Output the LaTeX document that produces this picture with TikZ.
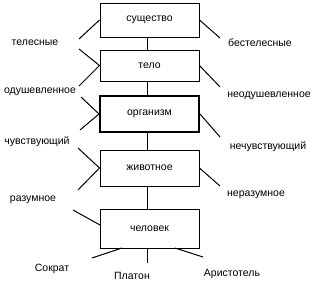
\documentclass[tikz,border=0pt]{standalone}
\usepackage{fontspec}
\setmainfont{Liberation Sans}
\begin{document}
\begin{tikzpicture}[x=1pt,y=-1pt,
  box/.style={draw, line width=1pt, minimum width=99pt, inner sep=0pt, font=\fontsize{10.5}{12}\selectfont},
  lbl/.style={inner sep=0pt, font=\fontsize{10.5}{12}\selectfont},
  ln/.style={line width=1pt}]
\useasboundingbox (0,0) rectangle (319,290);
% boxes
\node[box, minimum height=34pt] (b1) at (149.5,20) {существо};
\node[box, minimum height=31pt] (b2) at (149.5,65.5) {тело};
\node[box, line width=2pt, minimum height=36pt] (b3) at (149.5,114) {организм};
\node[box, minimum height=36pt] (b4) at (149.5,168) {животное};
\node[box, minimum height=39pt] (b5) at (149.5,228.5) {человек};
% labels
\node[lbl] (l1) at (35,43) {телесные};
\node[lbl] (r1) at (260,43) {бестелесные};
\node[lbl] (l2) at (40,92) {одушевленное};
\node[lbl] (r2) at (269,96) {неодушевленное};
\node[lbl] (l3) at (37,142) {чувствующий};
\node[lbl] (r3) at (268,147) {нечувствующий};
\node[lbl] (l4) at (33,200) {разумное};
\node[lbl] (r4) at (256,195) {неразумное};
\node[lbl] (s1) at (52,269) {Сократ};
\node[lbl] (s2) at (132,276) {Платон};
\node[lbl] (s3) at (232,274) {Аристотель};
% helper coordinates
\coordinate (cx) at (147,0);
\coordinate (a1) at (79,39);
\coordinate (a2) at (79,49);
\coordinate (a3) at (79,86);
\coordinate (a4) at (81,97);
\coordinate (a5) at (80,130);
\coordinate (a6) at (78,148);
\coordinate (a7) at (78,190);
\coordinate (a8) at (73,210);
\coordinate (e5) at (100,225);
\coordinate (c1) at (220,38);
\coordinate (c2) at (220,87);
\coordinate (c3) at (220,137);
\coordinate (c4) at (220,186);
\coordinate (p1) at (122,248);
\coordinate (q1) at (92,258);
\coordinate (q2) at (147,263);
\coordinate (p3) at (175,248);
\coordinate (q3) at (203,257);
% trunk
\draw[ln] (b1.south -| cx) -- (b2.north -| cx);
\draw[ln] (b2.south -| cx) -- (b3.north -| cx);
\draw[ln] (b3.south -| cx) -- (b4.north -| cx);
\draw[ln] (b4.south -| cx) -- (b5.north -| cx);
% left side
\draw[ln] (b1.west) -- (a1);
\draw[ln] (a2) -- (b2.west) -- (a3);
\draw[ln] (a4) -- (b3.west) -- (a5);
\draw[ln] (a6) -- (b4.west) -- (a7);
\draw[ln] (a8) -- (e5);
% right side
\draw[ln] (b1.east) -- (c1);
\draw[ln] (b2.east) -- (c2);
\draw[ln] (b3.east) -- (c3);
\draw[ln] (b4.east) -- (c4);
% bottom
\draw[ln] (p1) -- (q1);
\draw[ln] (b5.south -| cx) -- (q2);
\draw[ln] (p3) -- (q3);
\end{tikzpicture}
\end{document}
